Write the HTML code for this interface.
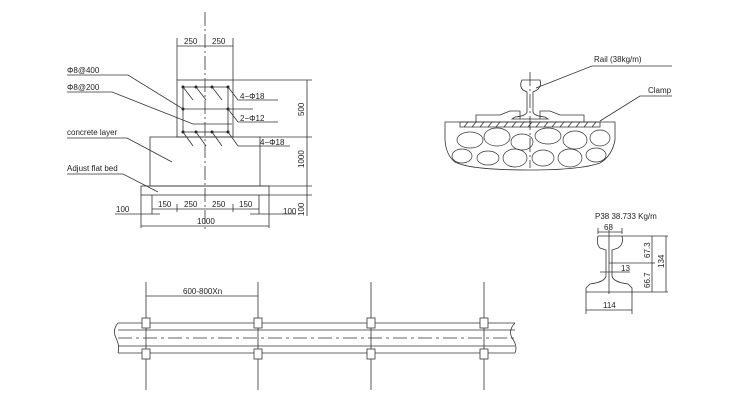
<!DOCTYPE html>
<html><head><meta charset="utf-8"><style>
html,body{margin:0;padding:0;background:#fff}
svg{display:block}
text{font-family:"Liberation Sans",sans-serif;font-size:8px;fill:#222}
</style></head><body>
<svg width="751" height="400" viewBox="0 0 751 400" stroke="#333" stroke-width="0.8" fill="none">
<!-- LEFT: foundation section -->
<line x1="205" y1="12" x2="205" y2="230" stroke-dasharray="14,3,2,3"/>
<rect x="177" y="80" width="56" height="57"/>
<rect x="150" y="137" width="110" height="49"/>
<rect x="141" y="186" width="128" height="9"/>
<line x1="233" y1="80" x2="312" y2="80"/>
<line x1="260" y1="137" x2="312" y2="137"/>
<line x1="260" y1="186" x2="312" y2="186"/>
<line x1="269" y1="195" x2="312" y2="195"/>
<!-- top dims -->
<line x1="177" y1="38" x2="177" y2="80"/><line x1="233" y1="38" x2="233" y2="80"/>
<line x1="177" y1="46" x2="233" y2="46"/>
<text x="184" y="44" stroke="none">250</text><text x="212" y="44" stroke="none">250</text>
<!-- right dims -->
<line x1="307" y1="80" x2="307" y2="216"/>
<text x="0" y="0" stroke="none" transform="translate(304,116) rotate(-90)">500</text>
<text x="0" y="0" stroke="none" transform="translate(304,168) rotate(-90)">1000</text>
<text x="0" y="0" stroke="none" transform="translate(304,216) rotate(-90)">100</text>
<!-- rebar -->
<rect x="183" y="87" width="45" height="45"/>
<g fill="#222" stroke="none">
<circle cx="183" cy="87" r="1.5"/><circle cx="196" cy="87" r="1.5"/><circle cx="212" cy="87" r="1.5"/><circle cx="228" cy="87" r="1.5"/>
<circle cx="183" cy="109" r="1.5"/><circle cx="228" cy="109" r="1.5"/>
<circle cx="183" cy="132" r="1.5"/><circle cx="196" cy="132" r="1.5"/><circle cx="212" cy="132" r="1.5"/><circle cx="228" cy="132" r="1.5"/>
</g>
<path d="M183 87L193 100 M196 87L206 100 M212 87L222 100 M228 87L238 100 L278 100"/>
<path d="M228 109L238 122 L278 122"/>
<path d="M183 132L193 146 M196 132L206 146 M212 132L222 146 M228 132L238 146 L290 146"/>
<text x="240" y="99" stroke="none" font-size="9">4−Φ18</text>
<text x="240" y="121" stroke="none" font-size="9">2−Φ12</text>
<text x="260" y="145" stroke="none" font-size="9">4−Φ18</text>
<!-- leaders -->
<path d="M67 75 L128 75 L183 109 L253 109"/>
<path d="M67 92 L112 92 L193 124 L232 124"/>
<path d="M67 138 L127 138 L172 162"/>
<path d="M67 174 L123 174 L158 192"/>
<text x="67" y="73" stroke="none">Φ8@400</text>
<text x="67" y="90" stroke="none">Φ8@200</text>
<text x="67" y="135" stroke="none">concrete layer</text>
<text x="67" y="171" stroke="none">Adjust flat bed</text>
<!-- bottom dims -->
<line x1="141" y1="195" x2="141" y2="228"/><line x1="269" y1="195" x2="269" y2="228"/>
<line x1="152" y1="195" x2="152" y2="214"/><line x1="259" y1="195" x2="259" y2="214"/>
<line x1="177" y1="204" x2="177" y2="212"/><line x1="233" y1="204" x2="233" y2="212"/>
<line x1="152" y1="209" x2="259" y2="209"/>
<line x1="115" y1="214" x2="160" y2="214"/><line x1="250" y1="214" x2="296" y2="214"/>
<line x1="141" y1="226" x2="269" y2="226"/>
<text x="158" y="207" stroke="none">150</text><text x="184" y="207" stroke="none">250</text>
<text x="212" y="207" stroke="none">250</text><text x="239" y="207" stroke="none">150</text>
<text x="116" y="212" stroke="none">100</text><text x="283" y="214" stroke="none">100</text>
<text x="197" y="224" stroke="none">1000</text>
<!-- RIGHT: rail on ballast -->
<line x1="530" y1="72" x2="530" y2="168" stroke-dasharray="14,3,2,3"/>
<path d="M522 80 L540 80 Q542 86 537 90 L533 92 L533 112 Q534 116 545 117 L548 119 L512 119 L515 117 Q526 116 527 112 L527 92 L523 90 Q519 86 522 80Z"/>
<path d="M476 122 L476 115 L500 115 L510 111 L520 111 L520 119 M584 122 L584 115 L560 115 L550 111 L540 111 L540 119"/>
<path d="M460 122 L600 122 L600 127 L460 127 Z"/>
<path d="M464 127 L468 122 M472 127 L476 122 M480 127 L484 122 M488 127 L492 122 M496 127 L500 122 M504 127 L508 122 M512 127 L516 122 M520 127 L524 122 M528 127 L532 122 M536 127 L540 122 M544 127 L548 122 M552 127 L556 122 M560 127 L564 122 M568 127 L572 122 M576 127 L580 122 M584 127 L588 122 M592 127 L596 122"/>
<path d="M445 122 L615 122 L615 140 Q612 156 600 163 Q580 170 530 170 Q470 170 455 162 Q446 155 445 140 Z"/>
<g stroke-width="0.7">
<ellipse cx="470" cy="140" rx="13" ry="8"/><ellipse cx="497" cy="137" rx="13" ry="9"/><ellipse cx="522" cy="142" rx="11" ry="8"/>
<ellipse cx="548" cy="136" rx="13" ry="8"/><ellipse cx="575" cy="140" rx="12" ry="9"/><ellipse cx="600" cy="138" rx="10" ry="8"/>
<ellipse cx="462" cy="156" rx="10" ry="7"/><ellipse cx="488" cy="158" rx="11" ry="7"/><ellipse cx="515" cy="158" rx="12" ry="9"/>
<ellipse cx="543" cy="158" rx="11" ry="8"/><ellipse cx="570" cy="158" rx="12" ry="9"/><ellipse cx="596" cy="155" rx="10" ry="7"/>
</g>
<path d="M536 88 L592 66 L672 66"/>
<path d="M600 121 L640 96 L672 96"/>
<text x="594" y="62" stroke="none">Rail (38kg/m)</text>
<text x="648" y="93" stroke="none">Clamp</text>
<!-- RAIL SECTION -->
<text x="595" y="219" stroke="none" font-size="6.5">P38 38.733 Kg/m</text>
<line x1="598" y1="232" x2="622" y2="232"/><line x1="598" y1="228" x2="598" y2="234"/><line x1="622" y1="228" x2="622" y2="234"/>
<text x="604" y="230" stroke="none" font-size="7">68</text>
<path d="M598 236 L622 236 Q624 244 618 248 L612 250 L612 276 Q613 282 628 284 L632 288 L632 292 L586 292 L586 288 L590 284 Q605 282 606 276 L606 250 L600 248 Q596 244 598 236Z"/>
<line x1="609" y1="230" x2="609" y2="294"/>
<path d="M622 236 L668 236 M609 263 L655 263 M632 292 L668 292 M600 272 L630 272"/>
<line x1="652" y1="236" x2="652" y2="292"/><line x1="666" y1="236" x2="666" y2="292"/>
<text x="0" y="0" stroke="none" font-size="8" transform="translate(650,258) rotate(-90)">67.3</text>
<text x="0" y="0" stroke="none" font-size="8" transform="translate(650,288) rotate(-90)">66.7</text>
<text x="0" y="0" stroke="none" font-size="8" transform="translate(664,268) rotate(-90)">134</text>
<text x="621" y="271" stroke="none" font-size="8">13</text>
<line x1="586" y1="292" x2="586" y2="314"/><line x1="632" y1="292" x2="632" y2="314"/>
<line x1="586" y1="310" x2="632" y2="310"/>
<text x="603" y="308" stroke="none" font-size="8">114</text>
<!-- BOTTOM PLAN -->
<path d="M118 323 L515 323 M118 330 L515 330 M118 346 L515 346 M118 353 L515 353"/>
<path d="M118 323 Q112 330 116 338 Q120 346 118 353 M515 323 Q508 330 512 338 Q518 346 515 353"/>
<line x1="118" y1="338" x2="515" y2="338" stroke-dasharray="14,4,3,4"/>
<g>
<line x1="146" y1="282" x2="146" y2="390"/><line x1="258" y1="282" x2="258" y2="390"/>
<line x1="371" y1="282" x2="371" y2="390"/><line x1="484" y1="282" x2="484" y2="390"/>
</g>
<g fill="#fff">
<rect x="142" y="318" width="8" height="10"/><rect x="254" y="318" width="8" height="10"/><rect x="367" y="318" width="8" height="10"/><rect x="480" y="318" width="8" height="10"/>
<rect x="142" y="349" width="8" height="10"/><rect x="254" y="349" width="8" height="10"/><rect x="367" y="349" width="8" height="10"/><rect x="480" y="349" width="8" height="10"/>
</g>
<line x1="146" y1="296" x2="258" y2="296"/>
<text x="183" y="294" stroke="none">600-800Xn</text>
</svg>
</body></html>
